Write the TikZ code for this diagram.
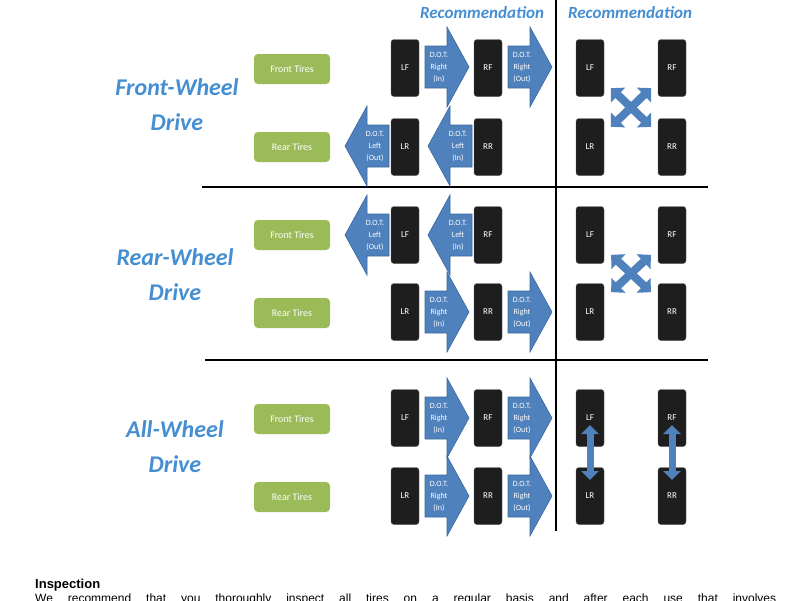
\documentclass[tikz,border=0pt]{standalone}
\usepackage{fontspec}
\setmainfont{Carlito}
\newfontfamily\bodyfont{Liberation Sans}
\usetikzlibrary{arrows.meta}

\definecolor{headblue}{RGB}{70,142,210}
\definecolor{dotblue}{RGB}{79,129,189}
\definecolor{dotedge}{RGB}{60,104,158}
\definecolor{axlegreen}{RGB}{155,187,89}
\definecolor{tiregray}{RGB}{30,30,30}

\tikzset{
  tire/.style={draw=gray!70!black, fill=tiregray, rounded corners=3pt,
    minimum width=28pt, minimum height=57pt, inner sep=0pt,
    text=white, font=\fontsize{9}{10}\selectfont},
  axle/.style={fill=axlegreen, rounded corners=4pt, minimum width=76pt,
    minimum height=30pt, text=white, font=\fontsize{10}{12}\selectfont},
  drive/.style={text=headblue, align=center,
    font=\fontsize{24}{35}\selectfont\bfseries\itshape},
  header/.style={text=headblue, font=\fontsize{17}{18}\selectfont\bfseries\itshape},
  dotarrow/.style={fill=dotblue, draw=dotedge, line width=0.6pt},
  dottext/.style={text=white, align=center, inner sep=0pt,
    font=\fontsize{8}{12}\selectfont},
  swapx/.style={dotblue, line width=8pt,
    {Triangle[width=20pt,length=10pt]}-{Triangle[width=20pt,length=10pt]}},
  swapv/.style={dotblue, line width=7pt,
    {Triangle[width=17pt,length=9pt]}-{Triangle[width=17pt,length=9pt]}},
  rule/.style={line width=2.5pt}
}

\begin{document}
\begin{tikzpicture}[x=1pt,y=-1pt]
  \clip (0,0) rectangle (800,600);
  \fill[white] (0,0) rectangle (800,600);

  % headings
  \node[header] (hdrA) at (482,13) {Recommendation};
  \node[header] (hdrB) at (630,13) {Recommendation};

  % section dividers
  \draw[rule] (202,187) -- (708,187);
  \draw[rule] (205,360) -- (708,360);
  \draw[rule] (556,0) -- (556,531);

  % drive names and axle boxes
  \node[drive] (fwname) at (177,105) {Front-Wheel\\Drive};
  \node[drive] (rwname) at (175,275) {Rear-Wheel\\Drive};
  \node[drive] (awname) at (175,447) {All-Wheel\\Drive};

  \foreach \s/\yt/\yb in {fw/69/147, rw/235/313, aw/419/497} {
    \node[axle] (\s-front) at (292,\yt) {Front Tires};
    \node[axle] (\s-rear) at (292,\yb) {Rear Tires};
  }

  % tires: current (left) and recommended (right)
  \foreach \s/\yt/\yb in {fw/68/147, rw/235/312, aw/418/496} {
    \node[tire] (\s-LF) at (405,\yt) {LF};
    \node[tire] (\s-RF) at (488,\yt) {RF};
    \node[tire] (\s-LR) at (405,\yb) {LR};
    \node[tire] (\s-RR) at (488,\yb) {RR};
    \node[tire] (\s-LFr) at (590,\yt) {LF};
    \node[tire] (\s-RFr) at (672,\yt) {RF};
    \node[tire] (\s-LRr) at (590,\yb) {LR};
    \node[tire] (\s-RRr) at (672,\yb) {RR};
  }

  % D.O.T. block arrows
  \foreach \tip/\y/\d/\side/\io [count=\i] in {
      469/67/1/Right/In, 552/67/1/Right/Out,
      345/146/-1/Left/Out, 428/146/-1/Left/In,
      345/235/-1/Left/Out, 428/235/-1/Left/In,
      469/312/1/Right/In, 552/312/1/Right/Out,
      469/418/1/Right/In, 552/418/1/Right/Out,
      469/496/1/Right/In, 552/496/1/Right/Out} {
    \draw[dotarrow] (\tip,\y) -- ++({-22*\d},-40) -- ++(0,19) -- ++({-22*\d},0)
      -- ++(0,42) -- ++({22*\d},0) -- ++(0,19) -- cycle;
    \node[dottext] (dot\i) at ({\tip-30*\d},\y) {D.O.T.\\\side\\(\io)};
  }

  % recommended rotations
  \foreach \s in {fw,rw} {
    \draw[swapx, shorten <=29pt, shorten >=29pt] (\s-LFr.center) -- (\s-RRr.center);
    \draw[swapx, shorten <=29pt, shorten >=29pt] (\s-RFr.center) -- (\s-LRr.center);
  }
  \draw[swapv, shorten <=7pt, shorten >=16pt] (aw-LFr.center) -- (aw-LRr.center);
  \draw[swapv, shorten <=7pt, shorten >=16pt] (aw-RFr.center) -- (aw-RRr.center);

  % text below the figure
  \node[anchor=base west, inner sep=0pt,
    font=\bodyfont\bfseries\fontsize{13}{15}\selectfont] (insp) at (35,588) {Inspection};
  \node[anchor=base west, inner sep=0pt,
    font=\bodyfont\fontsize{12}{14}\selectfont] (para) at (35,602)
    {\makebox[741pt][s]{We recommend that you thoroughly inspect all tires on a regular basis and after each use that involves}};
\end{tikzpicture}
\end{document}
